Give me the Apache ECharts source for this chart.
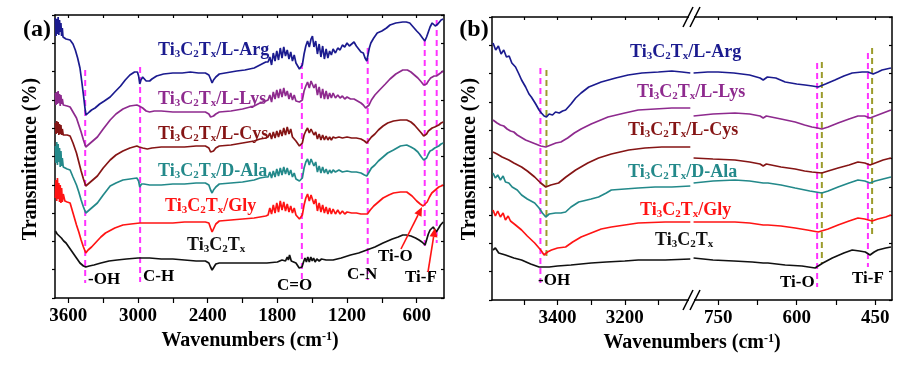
<!DOCTYPE html>
<html><head><meta charset="utf-8">
<script src="https://cdn.jsdelivr.net/npm/echarts@6/dist/echarts.min.js"></script>
<style>html,body{margin:0;padding:0;background:#fff}#c{width:923px;height:367px}</style>
</head><body><div id="c"></div>
<script>
// ---------- Panel (a) data: [wavenumber (cm-1), transmittance (arb., offset)] ----------
const argA = [[3712,280],[3706,262],[3700,279],[3694,264],[3688,281],[3682,263],[3676,278],[3670,266],[3664,275],[3658,262],[3652,270],[3646,261],[3636,262],[3620,259],[3585,258],[3560,254],[3540,248],[3520,240],[3500,230],[3485,217],[3470,203],[3455,188],[3448,183],[3435,185],[3420,186],[3400,188],[3370,190],[3330,194],[3290,197],[3240,201],[3200,206],[3150,212],[3110,218],[3070,223],[3030,226],[3005,226],[2995,222],[2985,214],[2975,218],[2960,221],[2945,219],[2930,217],[2900,217],[2880,219],[2840,222],[2780,224],[2700,225],[2620,225],[2550,226],[2480,225],[2420,225],[2390,223],[2375,219],[2362,215],[2350,218],[2330,221],[2300,224],[2250,225],[2150,227],[2080,228],[2000,230],[1950,233],[1900,236],[1880,236],[1865,241],[1850,233],[1835,245],[1820,237],[1805,247],[1790,238],[1775,250],[1760,240],[1745,251],[1730,242],[1715,248],[1700,239],[1685,246],[1670,237],[1655,243],[1640,235],[1625,233],[1610,229],[1598,227],[1585,233],[1570,244],[1555,252],[1540,257],[1525,251],[1510,259],[1498,262],[1485,251],[1470,257],[1455,244],[1440,254],[1425,241],[1410,252],[1395,239],[1380,249],[1365,240],[1350,247],[1335,243],[1320,249],[1300,245],[1280,250],[1260,248],[1240,253],[1220,251],[1200,255],[1180,252],[1160,254],[1140,256],[1120,252],[1100,249],[1080,246],[1060,245],[1045,240],[1030,237],[1020,239],[1008,250],[995,255],[970,260],[940,265],[900,267],[860,270],[830,273],[780,275],[720,276],[690,276],[660,275],[630,271],[600,267],[575,264],[550,260],[530,257],[515,261],[500,266],[485,271],[467,275],[450,274],[440,272],[428,270],[418,274],[408,276],[390,278],[372,279]];
const lysA = [[3712,205],[3706,193],[3700,206],[3694,194],[3688,207],[3682,195],[3676,204],[3670,192],[3664,203],[3658,194],[3652,199],[3644,193],[3630,194],[3610,192],[3585,191],[3560,186],[3530,180],[3510,173],[3490,166],[3470,158],[3450,151],[3430,153],[3410,155],[3380,158],[3350,161],[3300,169],[3240,178],[3190,184],[3130,189],[3070,192],[3010,193],[2990,192],[2960,190],[2930,187],[2900,186],[2860,187],[2800,187],[2700,186],[2600,186],[2500,186],[2420,186],[2390,184],[2375,181],[2365,179],[2350,182],[2330,184],[2300,186],[2200,187],[2100,189],[2000,192],[1950,195],[1900,197],[1880,198],[1865,203],[1850,196],[1835,206],[1820,199],[1805,208],[1790,200],[1775,209],[1760,201],[1745,210],[1730,202],[1715,207],[1700,199],[1685,205],[1670,198],[1655,203],[1640,197],[1625,197],[1610,196],[1598,194],[1585,198],[1570,207],[1555,212],[1540,216],[1525,210],[1510,217],[1498,219],[1485,210],[1470,214],[1455,203],[1440,211],[1425,200],[1410,209],[1395,199],[1380,207],[1365,199],[1350,205],[1335,200],[1320,205],[1300,200],[1280,203],[1260,200],[1240,202],[1220,199],[1200,201],[1170,199],[1140,199],[1110,197],[1080,195],[1060,193],[1040,190],[1025,189],[1010,193],[990,198],[960,203],[920,208],[870,214],[830,219],[780,224],[720,228],[680,228],[650,226],[620,223],[590,220],[560,216],[540,213],[528,211],[515,214],[500,217],[480,220],[467,221],[450,222],[430,222],[415,223],[395,225],[372,227]];
const cysA = [[3712,175],[3706,164],[3700,177],[3694,165],[3688,176],[3682,163],[3676,174],[3670,164],[3664,173],[3658,163],[3652,169],[3644,163],[3630,164],[3610,163],[3585,162],[3560,155],[3530,145],[3510,136],[3490,127],[3470,119],[3450,112],[3430,114],[3410,116],[3380,119],[3350,122],[3300,130],[3240,138],[3190,143],[3130,147],[3070,150],[3010,152],[2990,151],[2960,150],[2920,149],[2880,150],[2800,151],[2700,151],[2600,151],[2500,152],[2420,152],[2390,150],[2375,146],[2365,144],[2350,147],[2330,150],[2300,152],[2200,153],[2100,155],[2000,157],[1950,159],[1900,160],[1880,161],[1865,165],[1850,159],[1835,166],[1820,160],[1805,167],[1790,161],[1775,168],[1760,162],[1745,170],[1730,163],[1715,171],[1700,164],[1685,169],[1670,161],[1655,163],[1640,157],[1625,155],[1610,152],[1598,151],[1585,155],[1570,163],[1555,167],[1540,170],[1525,165],[1510,169],[1498,170],[1485,163],[1470,166],[1455,159],[1440,164],[1425,158],[1410,163],[1395,158],[1380,162],[1365,158],[1350,161],[1335,158],[1320,161],[1300,160],[1270,161],[1240,160],[1200,161],[1160,160],[1120,160],[1080,159],[1050,157],[1030,155],[1015,157],[990,161],[960,164],[930,168],[890,172],[850,175],[800,177],[740,178],[686,178],[650,176],[620,173],[590,169],[560,165],[540,162],[528,161],[515,164],[500,167],[485,169],[467,170],[445,171],[428,170],[410,173],[390,175],[372,176]];
const alaA = [[3712,152],[3706,135],[3700,156],[3694,133],[3688,154],[3682,136],[3676,150],[3670,131],[3664,147],[3658,132],[3652,140],[3644,131],[3630,131],[3610,129],[3585,128],[3560,121],[3530,113],[3510,106],[3490,98],[3470,91],[3450,85],[3430,87],[3410,89],[3380,92],[3350,95],[3300,103],[3240,112],[3190,115],[3130,118],[3070,119],[3010,120],[2995,117],[2985,111],[2970,114],[2950,114],[2900,113],[2800,113],[2700,114],[2600,114],[2500,115],[2420,115],[2390,113],[2375,108],[2362,105],[2350,108],[2330,111],[2300,114],[2200,115],[2100,116],[2000,118],[1950,120],[1900,121],[1880,121],[1865,126],[1850,120],[1835,127],[1820,121],[1805,129],[1790,122],[1775,130],[1760,123],[1745,131],[1730,124],[1715,130],[1700,123],[1685,128],[1670,121],[1655,125],[1640,119],[1625,118],[1610,117],[1598,116],[1585,120],[1570,130],[1555,136],[1540,139],[1525,133],[1510,139],[1498,141],[1485,132],[1470,136],[1455,126],[1440,132],[1425,125],[1410,131],[1395,125],[1380,129],[1365,124],[1350,128],[1335,125],[1320,128],[1300,126],[1270,128],[1240,126],[1200,127],[1160,126],[1120,126],[1080,125],[1050,123],[1030,122],[1015,124],[990,130],[960,133],[930,137],[890,141],[850,145],[800,148],[740,152],[686,153],[650,151],[620,149],[590,146],[560,141],[540,138],[528,136],[515,140],[500,144],[485,147],[467,148],[445,150],[428,150],[410,152],[390,154],[372,155]];
const glyA = [[3712,100],[3706,118],[3700,97],[3694,120],[3688,99],[3682,115],[3676,96],[3670,113],[3664,95],[3658,110],[3652,96],[3644,104],[3630,97],[3610,96],[3585,95],[3560,85],[3530,73],[3510,66],[3490,58],[3470,51],[3450,45],[3430,48],[3400,51],[3360,56],[3320,61],[3280,65],[3200,70],[3130,73],[3060,74],[2985,75],[2900,75],[2800,75],[2700,75],[2600,76],[2500,76],[2420,76],[2390,75],[2375,70],[2362,66],[2350,69],[2330,74],[2300,77],[2200,78],[2100,79],[2000,80],[1950,81],[1900,82],[1880,83],[1865,90],[1850,84],[1835,93],[1820,85],[1805,95],[1790,86],[1775,97],[1760,88],[1745,96],[1730,87],[1715,94],[1700,86],[1685,92],[1670,85],[1655,90],[1640,83],[1625,81],[1610,79],[1598,78],[1585,83],[1570,93],[1555,100],[1540,104],[1525,97],[1510,103],[1498,105],[1485,94],[1470,99],[1455,87],[1440,95],[1425,86],[1410,93],[1395,85],[1380,91],[1365,84],[1350,90],[1335,84],[1320,89],[1300,84],[1280,88],[1260,84],[1240,87],[1220,84],[1200,86],[1160,85],[1120,85],[1080,84],[1050,84],[1025,84],[1000,88],[970,92],[940,95],[890,100],[840,103],[800,105],[740,106],[686,106],[640,102],[600,97],[570,94],[545,92],[528,91],[510,96],[490,101],[470,105],[450,107],[430,109],[410,111],[390,112],[372,113]];
const pristineA = [[3712,67],[3704,69],[3696,64],[3688,66],[3680,63],[3660,60],[3640,57],[3620,55],[3590,50],[3560,45],[3530,40],[3500,35],[3470,32],[3450,31],[3420,32],[3380,33],[3320,35],[3250,37],[3180,38],[3100,39],[3000,40],[2900,40],[2800,39],[2700,39],[2600,38],[2500,37],[2420,37],[2390,35],[2375,31],[2362,28],[2350,30],[2330,34],[2300,35],[2200,35],[2100,35],[2000,35],[1890,35],[1800,36],[1760,38],[1730,37],[1715,41],[1705,38],[1695,43],[1680,37],[1660,36],[1640,35],[1625,33],[1612,30],[1600,28],[1588,31],[1575,36],[1562,40],[1550,36],[1538,41],[1525,36],[1512,41],[1500,37],[1488,40],[1475,36],[1460,39],[1440,37],[1420,39],[1380,38],[1320,38],[1250,40],[1170,43],[1100,45],[1030,48],[960,51],[890,55],[810,59],[760,61],[720,63],[690,63],[650,62],[610,60],[580,58],[555,56],[540,54],[528,53],[515,58],[500,64],[485,68],[470,70],[458,71],[445,69],[432,66],[425,67],[410,70],[395,73],[372,76]];

// ---------- Panel (b) data, high-wavenumber segment ----------
const argB1 = [[3592,257],[3584,250],[3576,254],[3568,246],[3560,250],[3552,243],[3544,244],[3536,237],[3525,233],[3515,226],[3507,220],[3495,213],[3485,206],[3478,203],[3465,196],[3455,190],[3448,187],[3440,184],[3433,183],[3425,186],[3415,185],[3406,188],[3395,187],[3385,189],[3376,190],[3360,196],[3346,202],[3330,207],[3307,213],[3270,218],[3227,222],[3190,225],[3149,227],[3100,228],[3060,229],[3030,228],[3005,227]];
const lysB1 = [[3592,180],[3580,177],[3570,175],[3560,174],[3550,171],[3540,169],[3530,168],[3520,165],[3510,163],[3495,160],[3480,158],[3465,156],[3450,154],[3435,153],[3420,155],[3405,157],[3390,158],[3370,162],[3350,167],[3330,171],[3300,176],[3250,183],[3200,187],[3160,190],[3110,191],[3060,192],[3005,192]];
const cysB1 = [[3592,148],[3580,146],[3565,143],[3545,140],[3530,137],[3507,133],[3490,129],[3468,123],[3450,117],[3435,113],[3420,115],[3397,117],[3375,123],[3346,130],[3310,137],[3278,142],[3240,146],[3188,150],[3140,152],[3090,153],[3040,153],[3005,153]];
const alaB1 = [[3592,127],[3585,122],[3578,125],[3570,120],[3562,124],[3555,118],[3545,117],[3535,113],[3520,110],[3507,105],[3490,101],[3468,97],[3455,92],[3445,87],[3435,83],[3425,86],[3406,87],[3390,87],[3376,88],[3360,93],[3337,98],[3300,101],[3278,103],[3255,107],[3240,110],[3200,111],[3160,112],[3110,113],[3060,113],[3005,114]];
const glyB1 = [[3592,90],[3585,84],[3578,89],[3570,83],[3562,87],[3555,80],[3547,84],[3540,79],[3525,75],[3507,70],[3490,64],[3468,57],[3450,50],[3440,45],[3430,48],[3418,50],[3400,52],[3376,53],[3355,58],[3330,63],[3300,67],[3270,71],[3240,73],[3200,75],[3160,77],[3080,78],[3005,78]];
const pristineB1 = [[3592,50],[3585,52],[3575,47],[3565,46],[3555,45],[3530,42],[3507,40],[3480,36],[3455,33],[3425,33],[3400,34],[3360,35],[3300,37],[3255,38],[3200,39],[3160,40],[3080,40],[3005,41]];
// ---------- Panel (b) data, low-wavenumber segment ----------
const argB2 = [[797,227],[770,228],[750,228],[720,227],[690,225],[670,222],[664,220],[656,223],[640,222],[622,218],[600,216],[584,215],[570,214],[559,213],[545,216],[527,220],[510,224],[494,227],[475,228],[464,228],[454,226],[445,228],[437,230],[420,232]];
const lysB2 = [[797,184],[760,186],[718,187],[690,186],[670,184],[664,182],[658,184],[630,181],[603,178],[585,175],[571,173],[560,172],[552,171],[540,173],[521,177],[500,181],[483,184],[470,184],[460,182],[450,184],[435,187],[420,190]];
const cysB2 = [[797,142],[760,141],[718,140],[690,138],[670,136],[664,134],[658,136],[630,133],[603,131],[585,129],[571,128],[552,127],[540,129],[521,132],[500,135],[483,138],[470,137],[460,135],[450,137],[435,140],[420,142]];
const alaB2 = [[797,117],[760,119],[718,120],[690,119],[664,117],[655,117],[630,115],[603,112],[575,109],[552,107],[540,109],[521,113],[500,117],[483,120],[470,119],[460,117],[450,119],[435,121],[420,123]];
const glyB2 = [[797,78],[760,78],[718,78],[690,77],[664,75],[655,75],[630,74],[603,72],[580,70],[559,68],[540,71],[521,75],[500,79],[483,82],[470,81],[456,79],[445,81],[430,83],[420,85]];
const pristineB2 = [[797,42],[760,40],[720,39],[685,38],[664,37],[655,37],[622,35],[590,34],[565,32],[550,37],[532,42],[510,47],[494,50],[480,49],[469,48],[460,45],[452,48],[445,50],[430,52],[420,53]];

// ---------- Peak marker lines: [wavenumber, top, bottom] ----------
const peaksA = [[3455,228,15],[2982,231,16],[1589,235,18],[1022,250,18],[531,258,48],[428,278,55]];
const peaksBmag = [[3451,232,17],[561,237,13],[464,247,33]];
const peaksBolive = [[3433,230,40],[552,238,37],[456,252,63]];

// ---------- Axis ticks ----------
const ticksA = [3600,3000,2400,1800,1200,600];
const minorA = [3600,3300,3000,2700,2400,2100,1800,1500,1200,900,600];
const ticksB1 = [3400,3200];
const minorB1 = [3500,3400,3300,3200,3100];
const ticksB2 = [750,600,450];
const minorB2 = [750,675,600,525,450];

const names = ['L-Arg','L-Lys','L-Cys','D-Ala','Gly',''];
const colors = ['#1b1b8f','#8e2a8e','#851515','#23898a','#ff1414','#111111'];
const seriesA = [argA,lysA,cysA,alaA,glyA,pristineA];
const seriesB1 = [argB1,lysB1,cysB1,alaB1,glyB1,pristineB1];
const seriesB2 = [argB2,lysB2,cysB2,alaB2,glyB2,pristineB2];

const FONT = '"Liberation Serif","Times New Roman",serif';
const chart = echarts.init(document.getElementById('c'), null, {renderer:'canvas'});

function xAx(grid, min, max, pos, labels, ticks, inside) {
  return {
    type:'value', gridIndex:grid, min:min, max:max, inverse:true, position:pos,
    axisLine:{show:true, onZero:false, lineStyle:{color:'#000', width:1.5}},
    axisTick:{show:true, inside:inside, length:inside?3:5, customValues:ticks, lineStyle:{color:'#000', width:1.2}},
    axisLabel:{show:!!labels, customValues:labels||[], formatter:v => String(v), color:'#000', fontFamily:FONT, fontWeight:'bold', fontSize:19, margin:9},
    splitLine:{show:false}
  };
}
function yAx(grid, pos, inside, line) {
  return {
    type:'value', gridIndex:grid, min:0, max:283, interval:28.3, position:pos,
    axisLine:{show:line, onZero:false, lineStyle:{color:'#000', width:1.5}},
    axisTick:{show:line, inside:inside, length:3, lineStyle:{color:'#000', width:1.2}},
    axisLabel:{show:false}, splitLine:{show:false}
  };
}

const xAxis = [
  xAx(0, 365, 3715, 'bottom', ticksA, minorA, false),
  xAx(0, 365, 3715, 'top', null, minorA, true),
  xAx(1, 3000, 3595, 'bottom', ticksB1, minorB1, false),
  xAx(1, 3000, 3595, 'top', null, minorB1, true),
  xAx(2, 418, 800, 'bottom', ticksB2, minorB2, false),
  xAx(2, 418, 800, 'top', null, minorB2, true)
];
const yAxis = [
  yAx(0,'left',false,true), yAx(0,'right',true,true),
  yAx(1,'left',false,true),
  yAx(2,'right',true,true)
];

const series = [];
function addLines(arrs, xi, yi) {
  arrs.forEach((d,i) => series.push({
    type:'line', xAxisIndex:xi, yAxisIndex:yi, data:d, showSymbol:false, symbol:'none',
    lineStyle:{color:colors[i], width:1.7}, silent:true, animation:false, z:3
  }));
}
function addPeaks(arr, xi, yi, color) {
  arr.forEach(p => series.push({
    type:'line', xAxisIndex:xi, yAxisIndex:yi, data:[[p[0],p[1]],[p[0],p[2]]], showSymbol:false, symbol:'none',
    lineStyle:{color:color, width:2, type:[6,4]}, silent:true, animation:false, z:2
  }));
}
addLines(seriesA, 0, 0);
addLines(seriesB1, 2, 2);
addLines(seriesB2, 4, 3);
addPeaks(peaksA, 0, 0, '#ff33ff');
addPeaks(peaksBmag.slice(0,1), 2, 2, '#ff33ff');
addPeaks(peaksBolive.slice(0,1), 2, 2, '#9c9c2c');
addPeaks(peaksBmag.slice(1), 4, 3, '#ff33ff');
addPeaks(peaksBolive.slice(1), 4, 3, '#9c9c2c');

// ---------- Text / annotations ----------
const g = [];
function txt(x, y, text, size, color, opts) {
  g.push(Object.assign({type:'text', x:x, y:y, z:100, style:{
    text:text, fill:color||'#000', font:'bold '+size+'px '+FONT,
    align:(opts&&opts.align)||'left', verticalAlign:'middle',
    rich:{
      s:{font:'bold 11px '+FONT, fill:color||'#000', padding:[9,0,0,0]},
      p:{font:'bold 12px '+FONT, fill:color||'#000', padding:[0,0,9,0]},
      m:{font:'bold '+size+'px '+FONT, fill:color||'#000'}
    }
  }}, (opts&&opts.extra)||{}));
}
function sampleLabel(name) { return '{m|Ti}{s|3}{m|C}{s|2}{m|T}{s|x}' + (name ? '{m|/' + name + '}' : ''); }

const labPosA = [[158,50],[158,99],[158,134],[158,171],[165,206],[187,245]];
const labPosB = [[630,52],[637,92],[628,130],[628,172],[640,210],[655,240]];
labPosA.forEach((p,i) => txt(p[0], p[1], sampleLabel(names[i]), 18, colors[i]));
labPosB.forEach((p,i) => txt(p[0], p[1], sampleLabel(names[i]), 18, colors[i]));

txt(37, 30, '(a)', 24, '#000', {align:'center'});
txt(474, 30, '(b)', 24, '#000', {align:'center'});
txt(250, 341, '{m|Wavenumbers (cm}{p|-1}{m|)}', 20, '#000', {align:'center'});
txt(692, 343, '{m|Wavenumbers (cm}{p|-1}{m|)}', 20, '#000', {align:'center'});
txt(31, 159, 'Transmittance (%)', 20, '#000', {align:'center', extra:{rotation:Math.PI/2}});
txt(470, 159, 'Transmittance (%)', 20, '#000', {align:'center', extra:{rotation:Math.PI/2}});

[['-OH',88,280],['C-H',143,277],['C=O',277,286],['C-N',347,275],['Ti-O',378,257],['Ti-F',405,278],
 ['-OH',538,281],['Ti-O',780,283],['Ti-F',852,279]].forEach(a => txt(a[1], a[2], a[0], 17, '#000'));

function arrow(x1,y1,x2,y2,color) {
  const ang = Math.atan2(y2-y1, x2-x1), L = 9, W = 4;
  const bx = x2 - L*Math.cos(ang), by = y2 - L*Math.sin(ang);
  g.push({type:'line', z:100, shape:{x1:x1,y1:y1,x2:bx,y2:by}, style:{stroke:color, lineWidth:1.6}});
  g.push({type:'polygon', z:100, shape:{points:[[x2,y2],[bx+W*Math.sin(ang), by-W*Math.cos(ang)],[bx-W*Math.sin(ang), by+W*Math.cos(ang)]]}, style:{fill:color}});
}
arrow(401, 249, 422, 207, '#ff1414');
arrow(428, 272, 435, 228, '#ff1414');

// axis break marks
[[17],[300]].forEach(r => {
  const y = r[0];
  g.push({type:'rect', z:99, shape:{x:689, y:y-3, width:5, height:6}, style:{fill:'#fff'}});
  g.push({type:'line', z:100, shape:{x1:683,y1:y+10,x2:693,y2:y-10}, style:{stroke:'#000', lineWidth:1.5}});
  g.push({type:'line', z:100, shape:{x1:690,y1:y+10,x2:700,y2:y-10}, style:{stroke:'#000', lineWidth:1.5}});
});

chart.setOption({
  backgroundColor:'#fff', animation:false,
  grid:[
    {left:55, top:15, width:389, height:283},
    {left:492, top:17, width:200, height:283},
    {left:692, top:17, width:200, height:283}
  ],
  xAxis:xAxis, yAxis:yAxis, series:series, graphic:g
});
</script></body></html>
